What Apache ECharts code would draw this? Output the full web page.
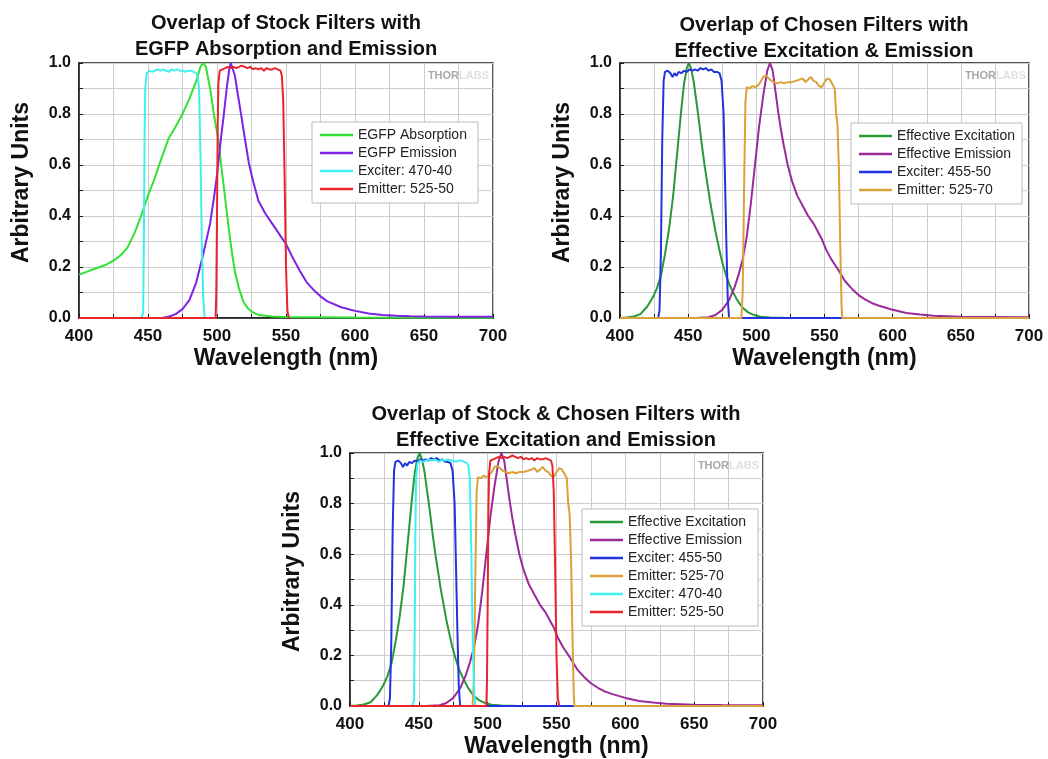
<!DOCTYPE html>
<html><head><meta charset="utf-8">
<script src="https://cdn.jsdelivr.net/npm/echarts@6/dist/echarts.min.js"></script>
<style>html,body{margin:0;padding:0;background:#fff}#c{width:1048px;height:759px}</style>
</head><body><div id="c"></div>
<script>
// ---- tick labels ----
const xTickLabels = [400, 450, 500, 550, 600, 650, 700];
const yTickLabels = ['0.0', '0.2', '0.4', '0.6', '0.8', '1.0'];

// ---- EGFP Absorption ----
const egfpAbsWl  = [400,405,410,415,420,425,430,435,440,445,450,455,460,465,470,475,480,485,488,490,492,495,498,501,503,505,507,509,511,513,516,519,522,525,530,540,550,600,700];
const egfpAbsVal = [0.17,0.18,0.19,0.2,0.21,0.225,0.245,0.275,0.33,0.4,0.48,0.55,0.63,0.705,0.75,0.8,0.86,0.93,0.985,1.0,0.985,0.9,0.79,0.7,0.6,0.51,0.42,0.33,0.25,0.18,0.115,0.065,0.04,0.025,0.012,0.006,0.004,0.002,0.001];

// ---- EGFP Emission ----
const egfpEmWl  = [460,465,470,475,480,485,490,495,498,500,503,505,507,509,510,511,513,515,518,520,523,526,530,535,540,545,550,555,560,565,570,575,580,590,600,610,620,630,640,650,670,700];
const egfpEmVal = [0,0.005,0.015,0.035,0.07,0.14,0.25,0.37,0.48,0.56,0.71,0.8,0.9,0.98,1.0,0.995,0.95,0.88,0.78,0.71,0.61,0.54,0.46,0.41,0.37,0.33,0.29,0.235,0.185,0.14,0.11,0.085,0.065,0.042,0.028,0.018,0.012,0.009,0.007,0.006,0.005,0.005];

// ---- Exciter 470-40 ----
const ex47040Wl  = [445,446.5,447,447.5,448,449,451,453,455,457,459,461,463,465,467,469,471,473,475,477,479,481,483,485,486,487,488,489,490,491];
const ex47040Val = [0,0.02,0.3,0.7,0.9,0.96,0.97,0.965,0.97,0.975,0.97,0.975,0.97,0.965,0.975,0.97,0.975,0.97,0.97,0.965,0.97,0.97,0.965,0.96,0.95,0.9,0.65,0.3,0.08,0];

// ---- Emitter 525-50 ----
const em52550Wl  = [400,499,499.5,500,500.5,501,502,504,506,508,510,512,514,516,518,520,522,524,526,528,530,532,534,536,538,540,542,544,546,547,548,549,550,551,552];
const em52550Val = [0,0,0.1,0.4,0.75,0.92,0.97,0.975,0.98,0.985,0.98,0.985,0.98,0.985,0.99,0.985,0.98,0.985,0.975,0.98,0.975,0.98,0.97,0.98,0.975,0.975,0.98,0.975,0.97,0.95,0.85,0.55,0.2,0.03,0];

// ---- Effective Excitation ----
const effExWl  = [400,405,410,415,420,424,427,430,433,436,439,442,445,447,449,450.5,452,454,456,458,460,462,464,466,468,470,472,474,476,478,480,483,486,490,494,498,503,510,520,700];
const effExVal = [0,0.002,0.006,0.015,0.045,0.08,0.115,0.165,0.25,0.35,0.48,0.65,0.82,0.92,0.98,1.0,0.98,0.93,0.85,0.77,0.68,0.6,0.53,0.46,0.4,0.34,0.29,0.24,0.2,0.165,0.135,0.1,0.07,0.04,0.022,0.012,0.005,0.002,0.001,0];

// ---- Effective Emission ----
const effEmWl  = [455,465,470,475,480,484,487,490,493,496,499,502,505,508,510,512,514,516,518,520,523,526,530,534,538,542,545,548,551,555,560,565,570,575,580,585,590,595,600,610,620,630,640,650,670,700];
const effEmVal = [0,0.003,0.012,0.032,0.07,0.12,0.17,0.23,0.32,0.45,0.6,0.75,0.87,0.97,1.0,0.97,0.89,0.81,0.74,0.68,0.6,0.54,0.48,0.44,0.4,0.37,0.34,0.31,0.27,0.23,0.19,0.145,0.115,0.09,0.072,0.058,0.048,0.04,0.032,0.02,0.014,0.009,0.007,0.005,0.004,0.003];

// ---- Exciter 455-50 ----
const ex45550Wl  = [400,428,429,430,431,432,433,435,437,438.5,440,441.5,443,445,447,449,451,453,455,457,459,461,463,465,467,469,471,473,474.5,476,477,478,479,480,700];
const ex45550Val = [0,0,0.03,0.25,0.7,0.93,0.965,0.97,0.96,0.945,0.96,0.95,0.965,0.96,0.97,0.965,0.975,0.97,0.975,0.97,0.98,0.975,0.98,0.97,0.975,0.965,0.965,0.96,0.93,0.8,0.55,0.3,0.08,0,0];

// ---- Emitter 525-70 ----
const em52570Wl  = [400,489,490,491,492,493,495,497,499,501,503,505,507,509,511,513,515,518,520,523,526,529,532,534,536,538,540,542,544,546,548,550,552,554,556,557.5,558.5,559.5,560.5,561.5,562.5,563,700];
const em52570Val = [0,0,0.1,0.5,0.85,0.905,0.9,0.91,0.905,0.91,0.925,0.945,0.95,0.94,0.93,0.925,0.92,0.925,0.92,0.925,0.925,0.93,0.935,0.94,0.925,0.935,0.945,0.93,0.925,0.91,0.905,0.925,0.94,0.935,0.915,0.9,0.8,0.76,0.6,0.3,0.05,0,0];

const COL = {
  egfpAbs: '#33e033', egfpEm: '#7d22e6', ex47040: '#3ff0f0', em52550: '#e8262a',
  effEx: '#279a37', effEm: '#9a2a9a', ex45550: '#2233dd', em52570: '#d9a23a'
};

const zip = (a, b) => a.map((x, i) => [x, b[i]]);
const FONT = 'Liberation Sans, Arial, sans-serif';

const grids = [
  {left: 79, top: 63, width: 414, height: 255},
  {left: 620, top: 63, width: 409, height: 255},
  {left: 350, top: 453, width: 413, height: 255}
];

function xAx(i) {
  return {
    type: 'value', gridIndex: i, min: 400, max: 700, interval: 25,
    name: 'Wavelength (nm)', nameLocation: 'middle', nameGap: 29,
    nameTextStyle: {fontFamily: FONT, fontWeight: 'bold', fontSize: 23, color: '#111'},
    axisLine: {lineStyle: {color: '#1a1a1a', width: 1.5}},
    axisTick: {inside: true, length: 4, lineStyle: {color: '#1a1a1a'}},
    axisLabel: {fontFamily: FONT, fontWeight: 'bold', fontSize: 17, color: '#111', margin: 10,
      formatter: v => xTickLabels.includes(Math.round(v)) ? String(Math.round(v)) : ''},
    splitLine: {show: true, lineStyle: {color: '#cccccc', width: 1}}
  };
}
function yAx(i) {
  return {
    type: 'value', gridIndex: i, min: 0, max: 1, interval: 0.1,
    name: 'Arbitrary Units', nameLocation: 'middle', nameGap: 46,
    nameTextStyle: {fontFamily: FONT, fontWeight: 'bold', fontSize: 23, color: '#111', padding: [0, 0, 0, 16]},
    axisLine: {lineStyle: {color: '#1a1a1a', width: 1.5}},
    axisTick: {inside: true, length: 4, lineStyle: {color: '#1a1a1a'}},
    axisLabel: {fontFamily: FONT, fontWeight: 'bold', fontSize: 16, color: '#111', margin: 8,
      formatter: v => { const s = v.toFixed(1); return yTickLabels.includes(s) ? s : ''; }},
    splitLine: {show: true, lineStyle: {color: '#cccccc', width: 1}}
  };
}

function ser(name, wl, val, color, gi) {
  return {
    type: 'line', name, xAxisIndex: gi, yAxisIndex: gi,
    data: zip(wl, val), showSymbol: false, symbol: 'none',
    lineStyle: {color, width: 2}, itemStyle: {color},
    animation: false
  };
}

const series = [
  ser('EGFP Absorption', egfpAbsWl, egfpAbsVal, COL.egfpAbs, 0),
  ser('EGFP Emission', egfpEmWl, egfpEmVal, COL.egfpEm, 0),
  ser('Exciter: 470-40', ex47040Wl, ex47040Val, COL.ex47040, 0),
  ser('Emitter: 525-50', em52550Wl, em52550Val, COL.em52550, 0),

  ser('Effective Excitation', effExWl, effExVal, COL.effEx, 1),
  ser('Effective Emission', effEmWl, effEmVal, COL.effEm, 1),
  ser('Exciter: 455-50', ex45550Wl, ex45550Val, COL.ex45550, 1),
  ser('Emitter: 525-70', em52570Wl, em52570Val, COL.em52570, 1),

  ser('Effective Excitation', effExWl, effExVal, COL.effEx, 2),
  ser('Effective Emission', effEmWl, effEmVal, COL.effEm, 2),
  ser('Exciter: 455-50', ex45550Wl, ex45550Val, COL.ex45550, 2),
  ser('Emitter: 525-70', em52570Wl, em52570Val, COL.em52570, 2),
  ser('Exciter: 470-40', ex47040Wl, ex47040Val, COL.ex47040, 2),
  ser('Emitter: 525-50', em52550Wl, em52550Val, COL.em52550, 2)
];

function leg(left, top, names, colors, padRight) {
  return {
    left, top, orient: 'vertical', selectedMode: false,
    data: names.map((n, i) => ({name: n, icon: 'rect', itemStyle: {color: colors[i]}})),
    itemWidth: 33, itemHeight: 2.5, itemGap: 4,
    textStyle: {fontFamily: FONT, fontSize: 14, lineHeight: 14, color: '#222'},
    backgroundColor: '#fff', borderColor: '#bbbbbb', borderWidth: 1,
    padding: [6, padRight, 7, 8]
  };
}

function titleText(x, y, text) {
  return {type: 'text', x, y, z: 10, style: {text, fill: '#111', font: 'bold 20px ' + FONT,
    textAlign: 'center', textVerticalAlign: 'middle', lineHeight: 26}};
}
function mark(x, y) {
  return {type: 'text', x, y, z: 10, style: {
    text: '{a|THOR}{b|LABS}', textAlign: 'right', textVerticalAlign: 'middle',
    rich: {a: {fontFamily: FONT, fontWeight: 'bold', fontSize: 11, fill: '#a8a8a8'},
           b: {fontFamily: FONT, fontWeight: 'bold', fontSize: 11, fill: '#e0e0e0'}}}};
}

const option = {
  backgroundColor: '#fff',
  animation: false,
  grid: grids.map(g => Object.assign({show: true, borderColor: '#1a1a1a', borderWidth: 1.5, backgroundColor: '#fff'}, g)),
  xAxis: [xAx(0), xAx(1), xAx(2)],
  yAxis: [yAx(0), yAx(1), yAx(2)],
  legend: [
    leg(312, 122, ['EGFP Absorption', 'EGFP Emission', 'Exciter: 470-40', 'Emitter: 525-50'],
        [COL.egfpAbs, COL.egfpEm, COL.ex47040, COL.em52550], 11),
    leg(851, 123, ['Effective Excitation', 'Effective Emission', 'Exciter: 455-50', 'Emitter: 525-70'],
        [COL.effEx, COL.effEm, COL.ex45550, COL.em52570], 7),
    leg(582, 509, ['Effective Excitation', 'Effective Emission', 'Exciter: 455-50', 'Emitter: 525-70', 'Exciter: 470-40', 'Emitter: 525-50'],
        [COL.effEx, COL.effEm, COL.ex45550, COL.em52570, COL.ex47040, COL.em52550], 12)
  ],
  graphic: [
    titleText(286, 36, 'Overlap of Stock Filters with\nEGFP Absorption and Emission'),
    titleText(824, 38, 'Overlap of Chosen Filters with\nEffective Excitation & Emission'),
    titleText(556, 427, 'Overlap of Stock & Chosen Filters with\nEffective Excitation and Emission'),
    mark(489, 76), mark(1026, 76), mark(759, 466)
  ],
  series
};

const chart = echarts.init(document.getElementById('c'), null, {renderer: 'canvas'});
chart.setOption(option);
</script>
</body></html>
